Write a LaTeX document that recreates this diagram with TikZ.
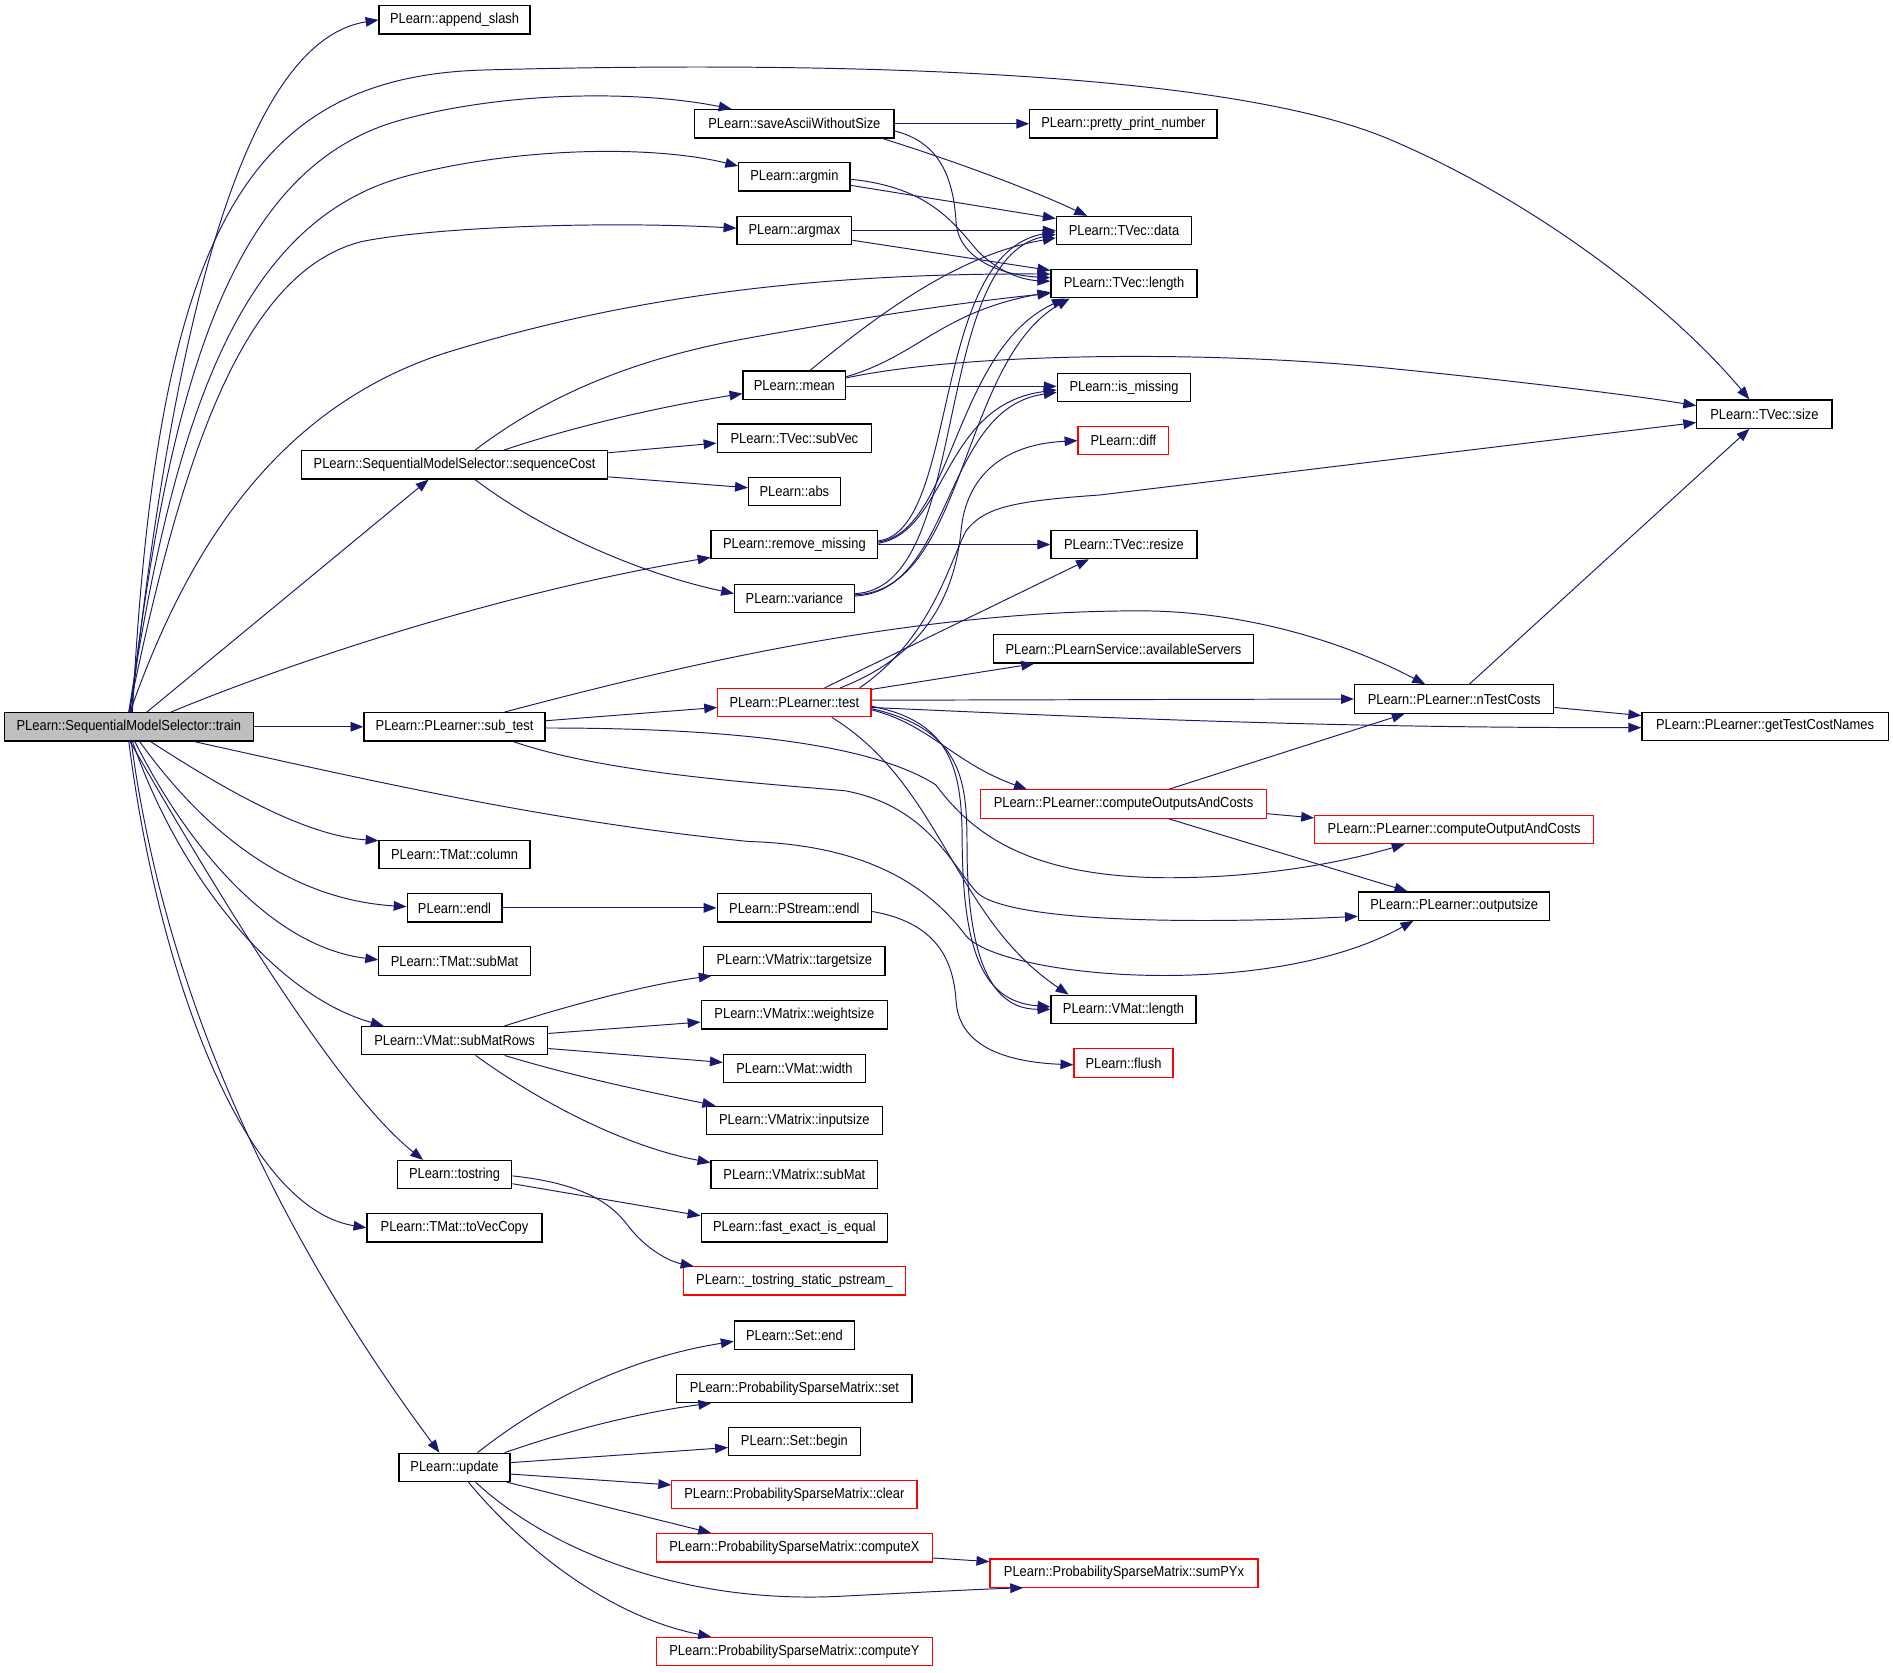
\documentclass[tikz,border=0pt]{standalone}
\usepackage{fontspec}
\setmainfont{Liberation Sans}[FakeStretch=0.89]
\usetikzlibrary{arrows.meta,calc}
\definecolor{edgec}{HTML}{191970}
\definecolor{redb}{HTML}{FF0000}
\definecolor{grayf}{HTML}{BFBFBF}
\begin{document}
\begin{tikzpicture}[x=0.75pt,y=-0.75pt,
  box/.style={draw=black, line width=0.75pt, rectangle, minimum height=17.6pt, inner xsep=2pt, inner ysep=0pt, font=\fontsize{9}{10.8}\selectfont, anchor=center},
  redbox/.style={box, draw=redb},
  rootbox/.style={box, fill=grayf},
  bw/.style={minimum width=#1*0.75pt},
  cedge/.style={draw=edgec, line width=0.6pt, -{Triangle[length=8pt,width=6pt]}}
]
\fill[white] (0,0) rectangle (1568,1385);
\useasboundingbox (0,0) rectangle (1568,1385);

% nodes
\node[rootbox,bw=206] (train) at (106.7,602) {PLearn::SequentialModelSelector::train};
\node[box,bw=125] (append) at (376.5,16.5) {PLearn::append\_slash};
\node[box,bw=165] (saveascii) at (658,102.5) {PLearn::saveAsciiWithoutSize};
\node[box,bw=155] (pretty) at (930.5,102.5) {PLearn::pretty\_print\_number};
\node[box,bw=92] (argmin) at (658,146.5) {PLearn::argmin};
\node[box,bw=95] (argmax) at (658,191) {PLearn::argmax};
\node[box,bw=112] (tvdata) at (931,191) {PLearn::TVec::data};
\node[box,bw=121] (tvlen) at (931,235) {PLearn::TVec::length};
\node[box,bw=85] (mean) at (658,319) {PLearn::mean};
\node[box,bw=110.5] (ismissing) at (931,321) {PLearn::is\_missing};
\node[box,bw=112] (tvsize) at (1461.5,343) {PLearn::TVec::size};
\node[box,bw=254] (seqcost) at (376.5,385) {PLearn::SequentialModelSelector::sequenceCost};
\node[box,bw=128] (subvec) at (658,363) {PLearn::TVec::subVec};
\node[redbox,bw=75] (diff) at (930.5,365) {PLearn::diff};
\node[box,bw=76] (abs) at (658,407) {PLearn::abs};
\node[box,bw=138] (remmiss) at (658,451) {PLearn::remove\_missing};
\node[box,bw=121] (resize) at (931,451) {PLearn::TVec::resize};
\node[box,bw=99] (variance) at (658,495.7) {PLearn::variance};
\node[box,bw=216] (servers) at (930.6,537.5) {PLearn::PLearnService::availableServers};
\node[redbox,bw=127] (test) at (658,582) {PLearn::PLearner::test};
\node[box,bw=165] (ntest) at (1204.5,579) {PLearn::PLearner::nTestCosts};
\node[box,bw=204] (gettest) at (1462,601.7) {PLearn::PLearner::getTestCostNames};
\node[box,bw=150] (subtest) at (376.5,602) {PLearn::PLearner::sub\_test};
\node[redbox,bw=237] (couts) at (930.6,666) {PLearn::PLearner::computeOutputsAndCosts};
\node[redbox,bw=231] (cout) at (1204.5,687) {PLearn::PLearner::computeOutputAndCosts};
\node[box,bw=125] (column) at (376.5,707.6) {PLearn::TMat::column};
\node[box,bw=158.5] (outsize) at (1204.5,750.5) {PLearn::PLearner::outputsize};
\node[box,bw=78.5] (endl) at (376.5,752) {PLearn::endl};
\node[box,bw=128] (pendl) at (658,752) {PLearn::PStream::endl};
\node[box,bw=125.5] (tsubmat) at (376.5,796) {PLearn::TMat::subMat};
\node[box,bw=150] (targetsize) at (658,796) {PLearn::VMatrix::targetsize};
\node[box,bw=154.5] (weightsize) at (658,840.6) {PLearn::VMatrix::weightsize};
\node[box,bw=120] (vmlen) at (930.6,836) {PLearn::VMat::length};
\node[box,bw=154.5] (submatrows) at (376.5,862) {PLearn::VMat::subMatRows};
\node[box,bw=117.5] (vmwidth) at (658,885) {PLearn::VMat::width};
\node[redbox,bw=82] (flush) at (930.6,880.5) {PLearn::flush};
\node[box,bw=146] (inputsize) at (658,928) {PLearn::VMatrix::inputsize};
\node[box,bw=138] (vsubmat) at (658,973) {PLearn::VMatrix::subMat};
\node[box,bw=95] (tostring) at (376.5,973) {PLearn::tostring};
\node[box,bw=154.5] (fastexact) at (658,1017) {PLearn::fast\_exact\_is\_equal};
\node[box,bw=145] (tovec) at (376.5,1017) {PLearn::TMat::toVecCopy};
\node[redbox,bw=184] (tsp) at (658,1061) {PLearn::\_tostring\_static\_pstream\_};
\node[box,bw=99.5] (setend) at (658,1106) {PLearn::Set::end};
\node[box,bw=194.7] (psmset) at (658,1150) {PLearn::ProbabilitySparseMatrix::set};
\node[box,bw=109] (setbegin) at (658,1194) {PLearn::Set::begin};
\node[box,bw=92] (update) at (376.5,1215.5) {PLearn::update};
\node[redbox,bw=203] (clear) at (658,1238) {PLearn::ProbabilitySparseMatrix::clear};
\node[redbox,bw=229] (computex) at (658,1282) {PLearn::ProbabilitySparseMatrix::computeX};
\node[redbox,bw=222] (sumpyx) at (931,1303) {PLearn::ProbabilitySparseMatrix::sumPYx};
\node[redbox,bw=229] (computey) at (658,1368) {PLearn::ProbabilitySparseMatrix::computeY};

% edges from train
\draw[cedge] ($(train.north)+(2,0)$) .. controls (140,300) and (195,35) .. (append.west);
\draw[cedge] ($(train.north)+(3,0)$) .. controls (130,200) and (200,64) .. (400,58) .. controls (620,52) and (1000,52) .. (1150,115) .. controls (1280,170) and (1390,260) .. ($(tvsize.north west)+(44,0)$);
\draw[cedge] ($(train.north)+(1,0)$) .. controls (140,320) and (190,140) .. (330,100) .. controls (420,75) and (530,75) .. ($(saveascii.north west)+(31,0)$);
\draw[cedge] (train.north) .. controls (145,340) and (200,180) .. (340,145) .. controls (430,122) and (540,120) .. ($(argmin.west)+(0,-9)$);
\draw[cedge] (train.north) .. controls (150,380) and (200,225) .. (300,200) .. controls (360,188) and (500,183) .. ($(argmax.west)+(0,-2)$);
\draw[cedge] ($(train.north)+(1,0)$) .. controls (150,470) and (220,340) .. (370,292) .. controls (500,252) and (650,226) .. ($(tvlen.west)+(0,-8)$);
\draw[cedge] ($(train.north)+(15,0)$) -- ($(seqcost.south west)+(106,0)$);
\draw[cedge] ($(train.north)+(35,0)$) .. controls (250,545) and (420,490) .. ($(remmiss.south west)+(0,-1.5)$);
\draw[cedge] (train.east) -- (subtest.west);
\draw[cedge] ($(train.south)+(54,0)$) .. controls (300,645) and (450,680) .. (620,697) .. controls (720,700) and (770,735) .. (800,775) .. controls (830,810) and (1050,830) .. ($(outsize.south west)+(46,0)$);
\draw[cedge] ($(train.south)+(18,0)$) .. controls (180,650) and (250,692) .. ($(column.north west)+(0,1)$);
\draw[cedge] ($(train.south)+(9,0)$) .. controls (170,690) and (240,745) .. ($(endl.west)+(0,-1)$);
\draw[cedge] ($(train.south)+(5,0)$) .. controls (160,710) and (230,785) .. ($(tsubmat.west)+(0,-1)$);
\draw[cedge] ($(train.south)+(3,0)$) .. controls (150,730) and (230,825) .. ($(submatrows.north west)+(19,0)$);
\draw[cedge] ($(train.south)+(1,0)$) .. controls (180,740) and (280,905) .. ($(tostring.north west)+(22,0)$);
\draw[cedge] (train.south) .. controls (130,800) and (200,1000) .. (tovec.west);
\draw[cedge] ($(train.south)+(2,0)$) .. controls (140,850) and (250,1050) .. ($(update.north west)+(34,0)$);

% saveAsciiWithoutSize
\draw[cedge] (saveascii.east) -- (pretty.west);
\draw[cedge] ($(saveascii.south east)+(-10,0)$) .. controls (780,130) and (850,155) .. ($(tvdata.north west)+(26,0)$);
\draw[cedge] ($(saveascii.east)+(0,6)$) .. controls (780,118) and (790,150) .. (792,185) .. controls (795,215) and (830,228) .. ($(tvlen.west)+(0,-5)$);

% argmin / argmax
\draw[cedge] ($(argmin.east)+(0,7)$) -- ($(tvdata.west)+(0,-10)$);
\draw[cedge] ($(argmin.east)+(0,2)$) .. controls (770,155) and (790,185) .. (810,208) .. controls (830,228) and (850,232) .. ($(tvlen.west)+(0,-2)$);
\draw[cedge] (argmax.east) -- (tvdata.west);
\draw[cedge] ($(argmax.east)+(0,8)$) -- ($(tvlen.west)+(0,-11)$);

% mean
\draw[cedge] ($(mean.north)+(13,0)$) .. controls (740,250) and (800,210) .. ($(tvdata.west)+(0,6)$);
\draw[cedge] ($(mean.east)+(0,-7)$) .. controls (760,295) and (780,258) .. ($(tvlen.west)+(0,7)$);
\draw[cedge] ($(mean.east)+(0,1)$) -- ($(ismissing.west)+(0,-1)$);
\draw[cedge] ($(mean.east)+(0,-6)$) .. controls (800,292) and (1000,290) .. (1150,305) .. controls (1250,315) and (1350,327) .. ($(tvsize.west)+(0,-7)$);

% sequenceCost
\draw[cedge] ($(seqcost.north)+(17,0)$) .. controls (450,330) and (520,298) .. (620,280) .. controls (720,262) and (800,250) .. ($(tvlen.west)+(0,8)$);
\draw[cedge] ($(seqcost.north)+(41,0)$) .. controls (470,355) and (540,338) .. ($(mean.west)+(0,7)$);
\draw[cedge] ($(seqcost.east)+(0,-10)$) -- ($(subvec.west)+(0,4)$);
\draw[cedge] ($(seqcost.east)+(0,10)$) -- ($(abs.west)+(0,-3)$);
\draw[cedge] ($(seqcost.south)+(17,0)$) .. controls (450,440) and (530,475) .. ($(variance.west)+(0,-4)$);

% remove_missing
\draw[cedge] ($(remmiss.east)+(0,-3)$) .. controls (795,440) and (770,210) .. ($(tvdata.west)+(0,1)$);
\draw[cedge] ($(remmiss.east)+(0,-2)$) .. controls (790,440) and (790,290) .. ($(tvlen.south west)+(12,0)$);
\draw[cedge] ($(remmiss.east)+(0,-1)$) .. controls (785,440) and (780,335) .. ($(ismissing.west)+(0,2)$);
\draw[cedge] (remmiss.east) -- (resize.west);

% variance
\draw[cedge] ($(variance.east)+(0,-4)$) .. controls (805,488) and (770,215) .. ($(tvdata.west)+(0,3)$);
\draw[cedge] ($(variance.east)+(0,-3)$) .. controls (800,490) and (795,300) .. ($(tvlen.south west)+(16,0)$);
\draw[cedge] ($(variance.east)+(0,-2)$) .. controls (790,490) and (780,338) .. ($(ismissing.west)+(0,4)$);

% PLearner::test
\draw[cedge] ($(test.north)+(25,0)$) -- ($(resize.south west)+(32,0)$);
\draw[cedge] ($(test.north)+(38,0)$) .. controls (760,545) and (790,500) .. (796,440) .. controls (800,395) and (830,368) .. (diff.west);
\draw[cedge] ($(test.north)+(54,0)$) .. controls (770,530) and (785,470) .. (800,440) .. controls (815,420) and (840,415) .. (911,410) -- ($(tvsize.west)+(0,7)$);
\draw[cedge] ($(test.east)+(0,-11)$) -- ($(servers.south west)+(34.5,0)$);
\draw[cedge] ($(test.east)+(0,-2)$) -- (ntest.west);
\draw[cedge] ($(test.east)+(0,4)$) .. controls (900,594) and (1100,603) .. ($(gettest.west)+(0,1)$);
\draw[cedge] ($(test.east)+(0,6)$) .. controls (770,600) and (790,632) .. ($(couts.north west)+(39,0)$);
\draw[cedge] ($(test.east)+(0,3)$) .. controls (790,598) and (797,640) .. (797,700) .. controls (798,800) and (820,830) .. ($(vmlen.west)+(0,-2)$);
\draw[cedge] ($(test.east)+(0,5)$) .. controls (800,605) and (801,650) .. (801,705) .. controls (802,805) and (826,836) .. (vmlen.west);
\draw[cedge] ($(test.south)+(31,0)$) .. controls (780,650) and (790,760) .. ($(vmlen.north west)+(15,0)$);

% sub_test
\draw[cedge] ($(subtest.east)+(0,-5)$) -- ($(test.west)+(0,4)$);
\draw[cedge] ($(subtest.north)+(41.5,0)$) .. controls (550,555) and (750,505) .. (949,506) .. controls (1030,507) and (1110,530) .. ($(ntest.north west)+(59,0)$);
\draw[cedge] ($(subtest.east)+(0,1)$) .. controls (600,603) and (720,615) .. (775,650) .. controls (805,690) and (850,725) .. (960,727) .. controls (1050,728) and (1120,712) .. ($(cout.south west)+(75,0)$);
\draw[cedge] ($(subtest.south)+(48.5,0)$) .. controls (500,640) and (620,648) .. (700,655) .. controls (770,668) and (790,720) .. (810,740) .. controls (840,765) and (1000,765) .. ($(outsize.west)+(0,8.5)$);

% nTestCosts
\draw[cedge] ($(ntest.north)+(12.5,0)$) -- ($(tvsize.south west)+(44,0)$);
\draw[cedge] ($(ntest.east)+(0,7)$) -- ($(gettest.west)+(0,-9)$);

% computeOutputsAndCosts
\draw[cedge] ($(couts.north)+(37.5,0)$) -- ($(ntest.south west)+(42,0)$);
\draw[cedge] ($(couts.east)+(0,8)$) -- ($(cout.west)+(0,-9.5)$);
\draw[cedge] ($(couts.south)+(37.5,0)$) -- ($(outsize.north west)+(41,0)$);

% endl
\draw[cedge] (endl.east) -- (pendl.west);
\draw[cedge] ($(pendl.east)+(0,3)$) .. controls (780,765) and (790,800) .. (792,830) .. controls (795,870) and (840,880) .. ($(flush.west)+(0,1.5)$);

% subMatRows
\draw[cedge] ($(submatrows.north)+(41.5,0)$) .. controls (480,830) and (540,815) .. ($(targetsize.south west)+(7,0)$);
\draw[cedge] ($(submatrows.east)+(0,-6)$) -- ($(weightsize.west)+(0,6)$);
\draw[cedge] ($(submatrows.east)+(0,6.5)$) -- ($(vmwidth.west)+(0,-5)$);
\draw[cedge] ($(submatrows.south)+(41.5,0)$) .. controls (480,893) and (540,905) .. ($(inputsize.north west)+(8,0)$);
\draw[cedge] ($(submatrows.south)+(17.5,0)$) .. controls (450,915) and (520,950) .. ($(vsubmat.west)+(0,-10)$);

% tostring
\draw[cedge] ($(tostring.east)+(0,7.5)$) -- ($(fastexact.west)+(0,-10)$);
\draw[cedge] ($(tostring.east)+(0,1)$) .. controls (480,980) and (505,995) .. (520,1015) .. controls (535,1035) and (555,1045) .. ($(tsp.north west)+(9,0)$);

% update
\draw[cedge] ($(update.north)+(19,0)$) .. controls (450,1160) and (520,1125) .. ($(setend.west)+(0,5)$);
\draw[cedge] ($(update.north)+(41.5,0)$) .. controls (470,1185) and (530,1170) .. ($(psmset.south west)+(29,0)$);
\draw[cedge] ($(update.east)+(0,-4)$) -- ($(setbegin.west)+(0,5)$);
\draw[cedge] ($(update.east)+(0,5.5)$) -- ($(clear.west)+(0,-8)$);
\draw[cedge] ($(update.south east)+(-3,0)$) -- ($(computex.north west)+(46,0)$);
\draw[cedge] ($(update.south)+(17.5,0)$) .. controls (450,1280) and (560,1330) .. (700,1322) .. controls (780,1318) and (820,1316) .. ($(sumpyx.south west)+(28,0)$);
\draw[cedge] ($(update.south)+(11.5,0)$) .. controls (440,1290) and (510,1340) .. ($(computey.north west)+(46,0)$);

% computeX
\draw[cedge] ($(computex.east)+(0,8.5)$) -- ($(sumpyx.west)+(0,-9.5)$);
\end{tikzpicture}
\end{document}
